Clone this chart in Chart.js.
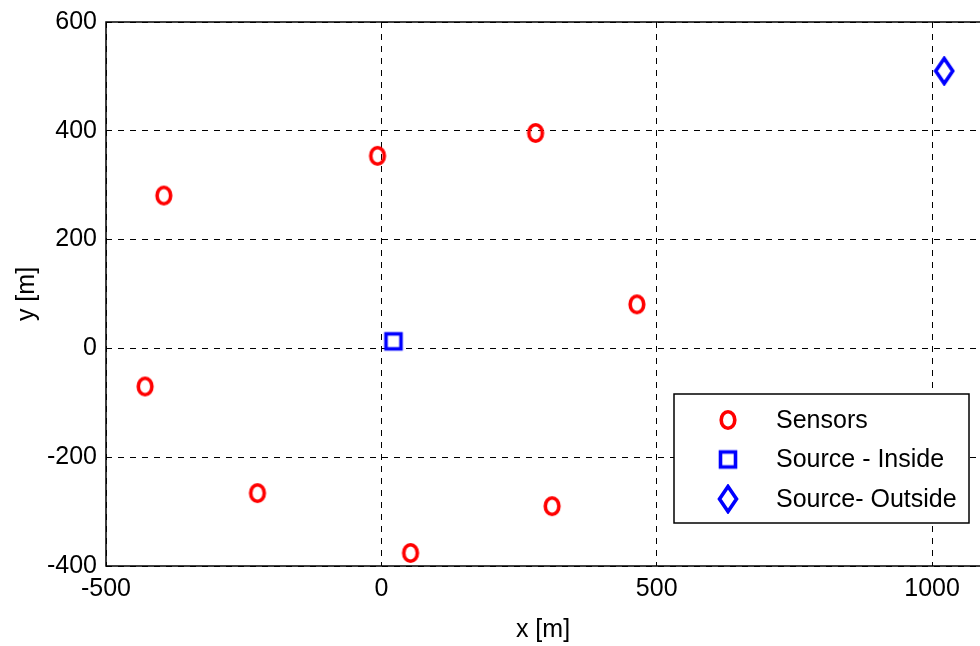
<!DOCTYPE html>
<html>
<head>
<meta charset="utf-8">
<script src="https://cdn.jsdelivr.net/npm/chart.js@4"></script>
<style>
  html, body { margin: 0; padding: 0; background: #ffffff; overflow: hidden; }
  #wrap { position: relative; width: 980px; height: 646px; }
</style>
</head>
<body>
<div id="wrap"><canvas id="scatterChart"></canvas></div>
<script>
// Data
const sensorX = [-395, -429, -225, -7, 53, 280, 310, 464];
const sensorY = [281, -70, -266, 354, -376, 396, -290, 81];
const insideX = [22];
const insideY = [13];
const outsideX = [1022];
const outsideY = [510];

const xTicks = [-500, 0, 500, 1000];
const yTicks = [-400, -200, 0, 200, 400, 600];
const seriesLabels = ['Sensors', 'Source - Inside', 'Source- Outside'];

const FONT = '"Liberation Sans", Arial, sans-serif';
const FONT_SIZE = 25;

function toPoints(xs, ys) {
  return xs.map(function (x, i) { return { x: x, y: ys[i] }; });
}

// marker images (MATLAB style open markers)
function makeMarker(kind) {
  const c = document.createElement('canvas');
  const ctx = c.getContext('2d');
  if (kind === 'o') {
    c.width = 22; c.height = 24;
    ctx.strokeStyle = '#ff0000';
    ctx.lineWidth = 3.6;
    ctx.beginPath();
    ctx.ellipse(11, 12, 6.8, 8.2, 0, 0, Math.PI * 2);
    ctx.stroke();
  } else if (kind === 's') {
    c.width = 22; c.height = 22;
    ctx.strokeStyle = '#0000ff';
    ctx.lineWidth = 3.6;
    ctx.strokeRect(3.5, 3.5, 15, 15);
  } else {
    c.width = 22; c.height = 30;
    ctx.strokeStyle = '#0000ff';
    ctx.lineWidth = 3.6;
    ctx.beginPath();
    ctx.moveTo(11, 2.5);
    ctx.lineTo(19.5, 15);
    ctx.lineTo(11, 27.5);
    ctx.lineTo(2.5, 15);
    ctx.closePath();
    ctx.stroke();
  }
  return c;
}

// solid axes frame (left, top, bottom)
const framePlugin = {
  id: 'frame',
  afterDraw: function (chart) {
    const a = chart.chartArea;
    const ctx = chart.ctx;
    ctx.save();
    ctx.strokeStyle = '#000000';
    ctx.lineWidth = 1.5;
    ctx.beginPath();
    ctx.moveTo(a.right + 2, a.top);
    ctx.lineTo(a.left, a.top);
    ctx.lineTo(a.left, a.bottom);
    ctx.lineTo(a.right + 2, a.bottom);
    ctx.stroke();
    ctx.restore();
  }
};

// boxed legend inside the axes, lower right
const boxLegend = {
  id: 'boxLegend',
  afterDraw: function (chart) {
    const a = chart.chartArea;
    const ctx = chart.ctx;
    const w = 295, h = 129;
    const left = a.right - 11 - w;
    const top = a.bottom - 43 - h;
    ctx.save();
    ctx.fillStyle = '#ffffff';
    ctx.fillRect(left, top, w, h);
    ctx.strokeStyle = '#000000';
    ctx.lineWidth = 1.5;
    ctx.strokeRect(left, top, w, h);
    ctx.font = FONT_SIZE + 'px ' + FONT;
    ctx.fillStyle = '#000000';
    ctx.textBaseline = 'middle';
    ctx.textAlign = 'left';
    chart.data.datasets.forEach(function (ds, i) {
      const cy = top + 26 + i * 39.5;
      const img = ds.pointStyle;
      ctx.drawImage(img, left + 54 - img.width / 2, cy - img.height / 2);
      ctx.fillText(ds.label, left + 102, cy + 1);
    });
    ctx.restore();
  }
};

function noPadding(scale) {
  scale.paddingLeft = 0;
  scale.paddingRight = 0;
  scale.paddingTop = 0;
  scale.paddingBottom = 0;
}

document.addEventListener('DOMContentLoaded', function () {
  Chart.defaults.font.family = FONT;
  Chart.defaults.color = '#000000';

  const ctx = document.getElementById('scatterChart');
  new Chart(ctx, {
    type: 'scatter',
    data: {
      datasets: [
        {
          label: seriesLabels[0],
          data: toPoints(sensorX, sensorY),
          pointStyle: makeMarker('o'),
          pointRadius: 10
        },
        {
          label: seriesLabels[1],
          data: toPoints(insideX, insideY),
          pointStyle: makeMarker('s'),
          pointRadius: 10
        },
        {
          label: seriesLabels[2],
          data: toPoints(outsideX, outsideY),
          pointStyle: makeMarker('d'),
          pointRadius: 10
        }
      ]
    },
    options: {
      responsive: true,
      maintainAspectRatio: false,
      animation: false,
      layout: {
        autoPadding: false,
        padding: { left: 0, right: 0, top: 22, bottom: 0 }
      },
      plugins: {
        legend: { display: false },
        tooltip: { enabled: false }
      },
      scales: {
        x: {
          type: 'linear',
          min: -500,
          max: 1087,
          afterBuildTicks: function (scale) {
            scale.ticks = xTicks.map(function (v) { return { value: v }; });
          },
          afterFit: function (scale) {
            scale.height = 80;
            noPadding(scale);
          },
          grid: {
            color: '#000000',
            lineWidth: 1,
            drawTicks: false
          },
          border: { display: false, dash: [6, 6] },
          ticks: {
            padding: 8,
            maxRotation: 0,
            autoSkip: false,
            font: { size: FONT_SIZE },
            color: '#000000',
            callback: function (value) { return String(value); }
          },
          title: {
            display: true,
            text: 'x [m]',
            font: { size: FONT_SIZE },
            color: '#000000',
            padding: { top: 0, bottom: 1 }
          }
        },
        y: {
          type: 'linear',
          min: -400,
          max: 600,
          afterBuildTicks: function (scale) {
            scale.ticks = yTicks.map(function (v) { return { value: v }; });
          },
          afterFit: function (scale) {
            scale.width = 106;
            noPadding(scale);
          },
          grid: {
            color: '#000000',
            lineWidth: 1,
            drawTicks: false
          },
          border: { display: false, dash: [6, 6] },
          ticks: {
            padding: 9,
            autoSkip: false,
            font: { size: FONT_SIZE },
            color: '#000000',
            callback: function (value) { return String(value); }
          },
          title: {
            display: true,
            text: 'y [m]',
            font: { size: FONT_SIZE },
            color: '#000000',
            padding: { top: 12, bottom: 0 }
          }
        }
      }
    },
    plugins: [framePlugin, boxLegend]
  });
});
</script>
</body>
</html>
